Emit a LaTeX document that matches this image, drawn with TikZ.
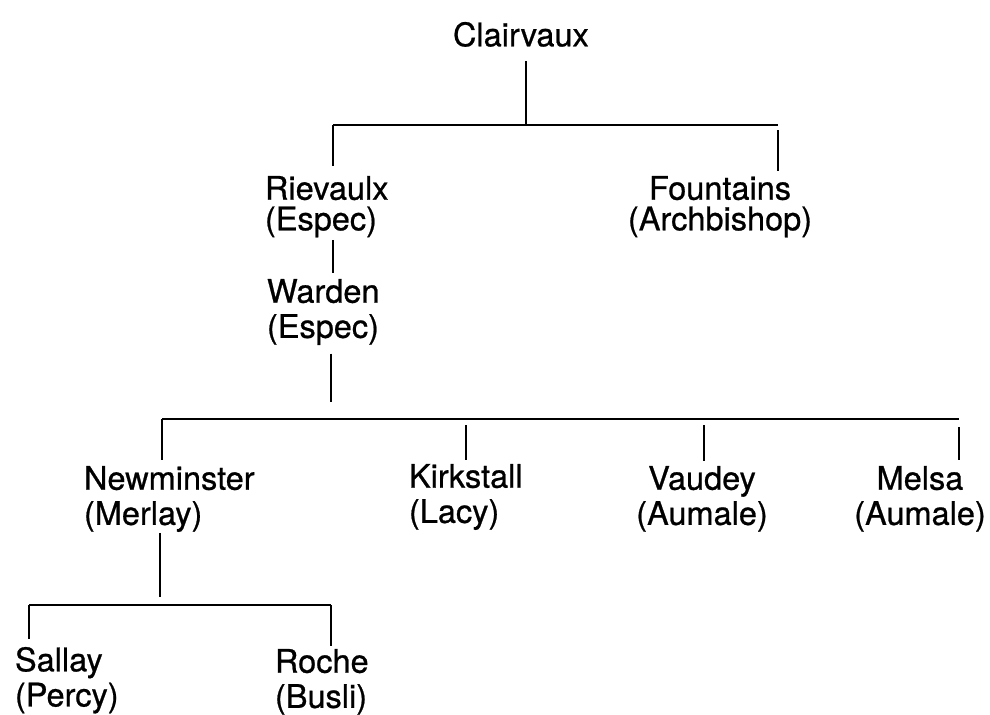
\documentclass[tikz,border=0pt]{standalone}
\usepackage{fontspec}
\setmainfont{TeX Gyre Heros}
\newfontfamily\abbeyfont{TeX Gyre Heros}[FakeBold=0.7]
\usepackage{tikz}
\usetikzlibrary{positioning}

\begin{document}
\begin{tikzpicture}[x=0.02cm, y=-0.02cm,
    abbey/.style = {inner sep=0pt, outer sep=0pt, align=left, font=\abbeyfont\fontsize{18.5}{20}\selectfont},
    link/.style = {line width=1pt}]
    \useasboundingbox (0,0) rectangle (990,714);

    % abbeys
    \node[abbey, anchor=north west] (clair) at (453,22)  {Clairvaux};
    \node[abbey, anchor=north west] (riev)  at (265,176) {Rievaulx\\[-2.6pt](Espec)};
    \node[abbey, anchor=north, align=center] (fount) at (720,176) {Fountains\\[-2.6pt](Archbishop)};
    \node[abbey, anchor=north west] (ward)  at (267,279) {Warden\\(Espec)};
    \node[abbey, anchor=north west] (newm)  at (84,466)  {Newminster\\(Merlay)};
    \node[abbey, anchor=north west] (kirk)  at (409,464) {Kirkstall\\(Lacy)};
    \node[abbey, anchor=north, align=center] (vaud) at (702,466) {Vaudey\\(Aumale)};
    \node[abbey, anchor=north, align=center] (mels) at (920,466) {Melsa\\(Aumale)};
    \node[abbey, anchor=north west] (sall)  at (15,647)  {Sallay\\(Percy)};
    \node[abbey, anchor=north west] (roch)  at (275,649) {Roche\\(Busli)};

    % joints on the bars
    \coordinate (j1) at (526,125);
    \coordinate (b1w) at (333,125);
    \coordinate (b1e) at (778,125);
    \coordinate (j2) at (333,0);
    \coordinate (j3) at (331,402);
    \coordinate (b2w) at (162,419);
    \coordinate (b2k) at (466,419);
    \coordinate (b2v) at (704,419);
    \coordinate (b2e) at (959,419);
    \coordinate (j4) at (160,597);
    \coordinate (b3w) at (29,605);
    \coordinate (b3e) at (331,605);

    % Clairvaux
    \draw[link, shorten <=8pt] (clair.south -| j1) -- (j1);
    \draw[link] (b1w) -- (b1e);
    \draw[link, shorten >=5.5pt] (b1w) -- (b1w |- riev.north);
    \draw[link, shorten <=3pt, shorten >=3pt] (b1e) -- (b1e |- fount.north);

    % Rievaulx and Warden
    \draw[link, shorten <=1.5pt, shorten >=3.5pt] (j2 |- riev.south) -- (j2 |- ward.north);
    \draw[link, shorten <=5pt] (j3 |- ward.south) -- (j3);
    \draw[link] (b2w) -- (b2e);
    \draw[link, shorten >=3.5pt] (b2w) -- (b2w |- newm.north);
    \draw[link, shorten <=3.5pt, shorten >=2.5pt] (b2k) -- (b2k |- kirk.north);
    \draw[link, shorten <=3.5pt, shorten >=3pt] (b2v) -- (b2v |- vaud.north);
    \draw[link, shorten <=4.5pt, shorten >=3.5pt] (b2e) -- (b2e |- mels.north);

    % Newminster
    \draw[link, shorten <=0.5pt] (j4 |- newm.south) -- (j4);
    \draw[link] (b3w) -- (b3e);
    \draw[link, shorten >=4.5pt] (b3w) -- (b3w |- sall.north);
    \draw[link, shorten >=1.5pt] (b3e) -- (b3e |- roch.north);
\end{tikzpicture}
\end{document}
